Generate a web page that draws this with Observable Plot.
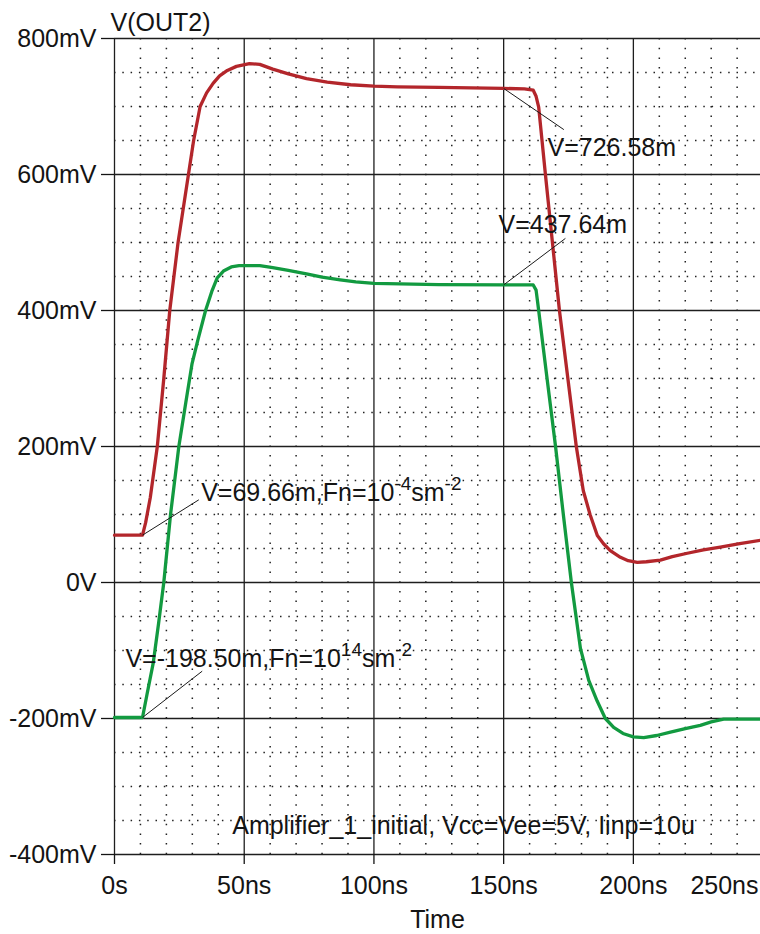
<!DOCTYPE html>
<html><head><meta charset="utf-8">
<script src="https://cdn.jsdelivr.net/npm/d3@7"></script>
<script src="https://cdn.jsdelivr.net/npm/@observablehq/plot@0.6"></script>
<style>html,body{margin:0;padding:0;background:#fff}#chart svg{display:block}</style>
</head><body><div id="chart"></div>
<script>
// ---- data (time in ns, voltage in mV) ----
const redT = [0, 10.8, 12, 13.8, 16.5, 19, 21.3, 24.5, 28.5, 30.5, 33, 35.5, 38, 40.5, 43.5, 47, 52, 56, 61, 67, 74, 82, 91, 100, 109, 125, 150, 158, 161.4, 162.5, 163.5, 166.1, 171.5, 178, 180.7, 183.3, 186.1, 188.5, 191.1, 195, 198, 201.5, 205, 210.4, 215, 220.8, 227, 233.5, 241, 249];
const redV = [69.66, 69.66, 88, 125, 200, 300, 400, 500, 600, 650, 700, 720, 734, 745, 753, 759, 763, 762, 755, 748, 741, 736, 732, 730, 729, 728, 726.58, 726, 724, 715, 699, 600, 400, 200, 135, 100, 69, 57, 47, 37, 32, 29.5, 30.5, 33, 38, 43, 48, 52, 57, 62];
const greenT = [0, 10.8, 12.5, 14.9, 17, 19, 21.6, 24.8, 27.5, 29.9, 32.1, 35.1, 37.5, 39.6, 42, 45, 48, 51, 56, 61, 67, 74, 80, 87, 93, 100, 125, 150, 161.4, 162.5, 163.5, 166.5, 170, 173, 176.1, 179.6, 182.8, 186, 189.2, 192.4, 196, 200, 204, 209, 214.3, 220, 225.8, 230, 234.8, 240, 249];
const greenV = [-198.5, -198.5, -165, -119, -60, 0, 100, 200, 265, 322, 356, 400, 428, 448, 458, 464, 466, 466, 466, 463, 459, 454, 449, 445, 442, 440, 438, 437.64, 437.6, 430, 400, 307, 200, 100, 0, -97, -144, -174, -200, -213, -222, -227, -228, -225, -220, -215, -210, -205, -201, -201, -201];

const xTicks = [0, 50, 100, 150, 200];
const xTickLabels = ["0s", "50ns", "100ns", "150ns", "200ns"];
const xEdgeLabel = "250ns";
const yTicks = [800, 600, 400, 200, 0, -200, -400];
const yTickLabels = ["800mV", "600mV", "400mV", "200mV", "0V", "-200mV", "-400mV"];
const seriesName = "V(OUT2)";
const xLabel = "Time";
const caption = "Amplifier_1_initial, Vcc=Vee=5V, Iinp=10u";

// cursor annotations
const annLabels = ["V=726.58m", "V=437.64m", "V=69.66m,Fn=10^{-4}sm^{-2}", "V=-198.50m,Fn=10^{14}sm^{-2}"];
const annCursorT = [150, 150, 10.8, 10.8];
const annCursorV = [726.58, 437.64, 69.66, -198.5];
const annLeaderT = [173.2, 173.8, 32.5, 33.8];
const annLeaderV = [666, 506, 121.6, -130.4];
const annTextT = [166.9, 148, 33.4, 4.2];
const annTextV = [639, 525.7, 131, -111.8];

const X_MAX = 249;

// ---- tables ----
const red = redT.map((t, i) => ({t, v: redV[i]}));
const green = greenT.map((t, i) => ({t, v: greenV[i]}));
const ann = annLabels.map((label, i) => ({label, t1: annCursorT[i], v1: annCursorV[i], t2: annLeaderT[i], v2: annLeaderV[i], tt: annTextT[i], tv: annTextV[i]}));
const xMinor = d3.range(10, X_MAX, 10).filter(d => d % 50 !== 0);
const yMinor = d3.range(-350, 800, 50).filter(d => d % 200 !== 0);

const FS = 25;
const chart = Plot.plot({
  width: 760, height: 934,
  marginLeft: 114, marginRight: 0, marginTop: 38, marginBottom: 80,
  style: {fontFamily: "'Liberation Sans', Arial, Helvetica, sans-serif", fontSize: FS + "px", color: "#141414", background: "#fff", overflow: "visible"},
  x: {domain: [0, X_MAX]},
  y: {domain: [-400, 800]},
  marks: [
    Plot.ruleX(xMinor, {stroke: "#222", strokeWidth: 1.5, strokeDasharray: "1.5,8.2"}),
    Plot.ruleY(yMinor, {stroke: "#222", strokeWidth: 1.5, strokeDasharray: "1.5,6.8"}),
    Plot.ruleX(xTicks, {stroke: "#1e1e1e", strokeWidth: 1.3}),
    Plot.ruleY(yTicks, {stroke: "#1e1e1e", strokeWidth: 1.3}),
    Plot.axisX(xTicks, {anchor: "bottom", tickFormat: d => xTickLabels[xTicks.indexOf(d)], tickSize: 10, tickPadding: 12, label: null, fontSize: FS, strokeWidth: 1.3}),
    Plot.axisY(yTicks, {anchor: "left", tickFormat: d => yTickLabels[yTicks.indexOf(d)], tickSize: 13, tickPadding: 5, label: null, fontSize: FS, strokeWidth: 1.3}),
    Plot.line(red, {x: "t", y: "v", stroke: "#b3262b", strokeWidth: 3.3}),
    Plot.line(green, {x: "t", y: "v", stroke: "#129a40", strokeWidth: 3.3}),
    Plot.link(ann, {x1: "t1", y1: "v1", x2: "t2", y2: "v2", stroke: "#1a1a1a", strokeWidth: 1}),
    Plot.text(ann, {x: "tt", y: "tv", text: "label", textAnchor: "start", lineAnchor: "middle", fontSize: FS, fill: "#141414"}),
    Plot.text([xEdgeLabel], {x: () => X_MAX, y: () => -400, textAnchor: "end", lineAnchor: "top", dx: -2, dy: 22, fontSize: FS}),
    Plot.text([seriesName], {x: () => 0, y: () => 800, textAnchor: "start", lineAnchor: "middle", dx: -4, dy: -16, fontSize: FS}),
    Plot.text([xLabel], {frameAnchor: "bottom", dy: 73, fontSize: FS}),
    Plot.text([caption], {frameAnchor: "bottom", dx: 26, dy: -21, fontSize: FS, letterSpacing: 0.7})
  ]
});

// superscripts in annotation labels
d3.select(chart).selectAll("text").each(function () {
  const s = this.textContent;
  if (!s.includes("^{")) return;
  const parts = s.split(/\^\{([^}]*)\}/);
  const el = d3.select(this);
  el.text(null);
  let raised = false;
  parts.forEach((p, i) => {
    if (!p) return;
    const sup = i % 2 === 1;
    const ts = el.append("tspan").text(p);
    if (sup) {
      ts.attr("font-size", 19);
      if (!raised) { ts.attr("dy", -11); raised = true; }
    } else if (raised) {
      ts.attr("dy", 11); raised = false;
    }
  });
});

document.getElementById("chart").appendChild(chart);
</script>
</body></html>
